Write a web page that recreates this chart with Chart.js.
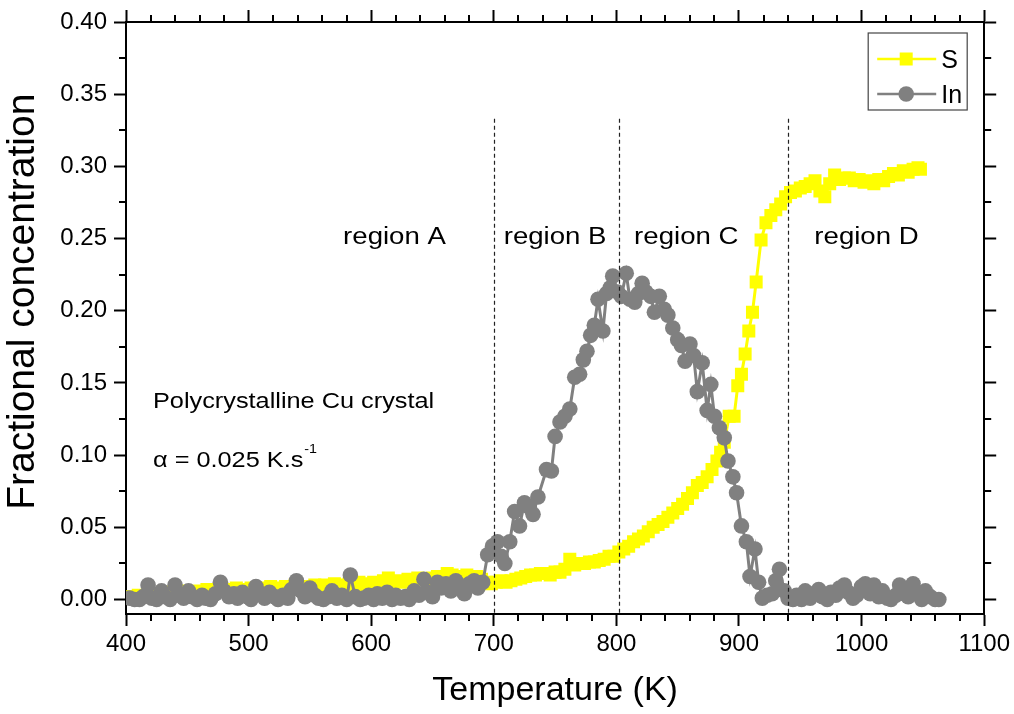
<!DOCTYPE html>
<html>
<head>
<meta charset="utf-8">
<title>S and In segregation on polycrystalline Cu</title>
<script src="https://cdn.jsdelivr.net/npm/chart.js@4.4.1/dist/chart.umd.min.js"></script>
<style>
  html, body { margin: 0; padding: 0; background: #fff; }
  #wrap { width: 1014px; height: 714px; position: relative; }
</style>
</head>
<body>
<div id="wrap"><canvas id="myChart"></canvas></div>
<script>
// Sulphur surface concentration vs temperature
const sTemp = [402, 406, 410, 414, 418, 422, 426, 430, 434, 438, 442, 446, 450, 454, 458, 462, 466, 470, 474, 478,
    482, 486, 490, 494, 498, 502, 506, 510, 514, 518, 522, 526, 530, 534, 538, 542, 546, 550, 554, 558,
    562, 566, 570, 574, 578, 582, 586, 590, 594, 598, 602, 606, 610, 614, 618, 622, 626, 630, 634, 638,
    642, 646, 650, 654, 658, 662, 666, 670, 674, 678, 682, 686, 690, 694, 698, 702, 706, 710, 714, 718,
    722, 726, 730, 734, 738, 742, 746, 750, 754, 758, 762, 766, 770, 774, 778, 782, 786, 790, 794, 798,
    802, 806, 810, 814, 818, 822, 826, 830, 834, 838, 842, 846, 850, 854, 858, 862, 866, 870, 874, 878,
    882, 885, 888, 892, 896, 899, 902, 905, 908, 911, 914, 918, 922, 926, 930, 934, 938, 942, 946, 950,
    954, 958, 962, 966, 970, 974, 978, 982, 986, 990, 994, 998, 1002, 1006, 1010, 1014, 1018, 1022, 1026, 1030,
    1034, 1038, 1042, 1046, 1048];
const sConc = [0.002, 0.002, 0.003, 0.002, 0.004, 0.004, 0.003, 0.005, 0.004, 0.005, 0.004, 0.006, 0.005, 0.005, 0.006, 0.005, 0.007, 0.006, 0.006, 0.008,
    0.007, 0.006, 0.008, 0.007, 0.006, 0.008, 0.007, 0.008, 0.007, 0.009, 0.008, 0.007, 0.009, 0.008, 0.010, 0.009, 0.008, 0.009, 0.010, 0.008,
    0.010, 0.009, 0.011, 0.010, 0.009, 0.011, 0.010, 0.012, 0.010, 0.011, 0.012, 0.011, 0.013, 0.015, 0.012, 0.013, 0.012, 0.014, 0.013, 0.015,
    0.014, 0.013, 0.015, 0.016, 0.014, 0.018, 0.017, 0.015, 0.016, 0.017, 0.015, 0.016, 0.014, 0.012, 0.011, 0.012, 0.013, 0.012, 0.013, 0.014,
    0.015, 0.016, 0.017, 0.017, 0.018, 0.018, 0.017, 0.019, 0.019, 0.021, 0.028, 0.024, 0.025, 0.025, 0.026, 0.026, 0.027, 0.028, 0.030, 0.030,
    0.033, 0.035, 0.037, 0.040, 0.042, 0.044, 0.047, 0.050, 0.052, 0.054, 0.057, 0.060, 0.063, 0.066, 0.070, 0.074, 0.079, 0.081, 0.085, 0.090,
    0.096, 0.102, 0.109, 0.127, 0.127, 0.148, 0.156, 0.170, 0.186, 0.199, 0.220, 0.249, 0.261, 0.266, 0.270, 0.274, 0.279, 0.282, 0.283, 0.285,
    0.286, 0.288, 0.290, 0.283, 0.279, 0.288, 0.294, 0.291, 0.292, 0.292, 0.290, 0.291, 0.289, 0.290, 0.288, 0.291, 0.290, 0.293, 0.295, 0.294,
    0.297, 0.296, 0.298, 0.299, 0.298];

// Indium surface concentration vs temperature
const inTemp = [403, 407, 411, 414, 418, 421, 425, 429, 432, 436, 440, 443, 447, 451, 454, 458, 462, 465, 469, 473,
    477, 480, 484, 488, 491, 495, 499, 502, 506, 510, 513, 517, 521, 524, 528, 532, 535, 539, 543, 546,
    550, 554, 557, 561, 565, 568, 572, 576, 580, 583, 587, 591, 594, 598, 602, 605, 609, 613, 617, 620,
    624, 628, 631, 635, 639, 643, 646, 650, 654, 657, 661, 665, 669, 672, 676, 680, 684, 687, 691, 695,
    699, 703, 706, 709, 713, 717, 721, 725, 729, 732, 736, 743, 747, 750, 754, 758, 762, 766, 770, 773,
    776, 779, 782, 785, 789, 792, 795, 797, 801, 804, 808, 811, 815, 818, 821, 824, 828, 831, 835, 839,
    842, 846, 850, 853, 856, 860, 863, 866, 870, 874, 877, 880, 884, 888, 891, 895, 898, 902, 906, 909,
    913, 916, 919, 923, 927, 930, 933, 937, 940, 944, 947, 951, 954, 958, 961, 965, 968, 972, 975, 979,
    982, 986, 989, 993, 996, 1000, 1003, 1007, 1010, 1014, 1017, 1021, 1024, 1028, 1031, 1035, 1038, 1042, 1045, 1049,
    1052, 1056, 1060, 1063];
const inConc = [0.001, 0.000, 0.000, 0.002, 0.010, 0.001, 0.000, 0.006, 0.002, 0.000, 0.010, 0.003, 0.001, 0.006, 0.002, 0.000, 0.003, 0.001, 0.000, 0.004,
    0.012, 0.006, 0.002, 0.004, 0.001, 0.005, 0.002, 0.000, 0.009, 0.004, 0.001, 0.005, 0.002, 0.000, 0.003, 0.001, 0.007, 0.013, 0.006, 0.002,
    0.008, 0.003, 0.001, 0.000, 0.002, 0.006, 0.001, 0.003, 0.000, 0.017, 0.002, 0.000, 0.001, 0.003, 0.000, 0.004, 0.001, 0.005, 0.000, 0.003,
    0.001, 0.002, 0.000, 0.006, 0.003, 0.014, 0.005, 0.002, 0.012, 0.008, 0.011, 0.006, 0.013, 0.009, 0.004, 0.011, 0.013, 0.008, 0.012, 0.031,
    0.037, 0.040, 0.030, 0.025, 0.040, 0.061, 0.051, 0.067, 0.064, 0.059, 0.071, 0.090, 0.089, 0.113, 0.123, 0.127, 0.132, 0.154, 0.156, 0.166,
    0.172, 0.183, 0.190, 0.208, 0.186, 0.212, 0.216, 0.224, 0.213, 0.210, 0.226, 0.208, 0.206, 0.212, 0.219, 0.213, 0.210, 0.199, 0.210, 0.201,
    0.197, 0.188, 0.180, 0.176, 0.165, 0.177, 0.169, 0.144, 0.164, 0.131, 0.149, 0.127, 0.119, 0.112, 0.096, 0.085, 0.074, 0.051, 0.040, 0.016,
    0.035, 0.012, 0.001, 0.003, 0.004, 0.013, 0.021, 0.006, 0.001, 0.000, 0.003, 0.000, 0.006, 0.001, 0.004, 0.007, 0.002, 0.000, 0.005, 0.003,
    0.008, 0.010, 0.005, 0.001, 0.003, 0.009, 0.011, 0.004, 0.010, 0.002, 0.006, 0.001, 0.000, 0.003, 0.010, 0.004, 0.002, 0.011, 0.005, 0.000,
    0.006, 0.002, 0.000, 0.000];

// Axis ticks
const xTicks = [400, 500, 600, 700, 800, 900, 1000, 1100];
const xMinorTicks = [420, 440, 460, 480, 520, 540, 560, 580, 620, 640, 660, 680, 720, 740, 760, 780,
    820, 840, 860, 880, 920, 940, 960, 980, 1020, 1040, 1060, 1080];
const yTicks = [0, 0.05, 0.10, 0.15, 0.20, 0.25, 0.30, 0.35, 0.40];
const yMinorTicks = [0.025, 0.075, 0.125, 0.175, 0.225, 0.275, 0.325, 0.375];

// Region boundaries (K) and region labels
const boundaryTemps = [700, 802, 940];
const boundaryTop = 0.333;
const regionLabels = ["region A", "region B", "region C", "region D"];
const regionCenters = [619, 750, 857, 1004];
const regionLabelY = 0.246;

// Sample notes
const noteLines = ["Polycrystalline Cu crystal", "\u03B1 = 0.025 K.s"];
const noteSuperscript = "-1";
const noteX = 422;
const noteY = [0.133, 0.092];

const fontFamily = '"Liberation Sans", Arial, Helvetica, sans-serif';
const ctx = document.querySelector("#myChart");

Chart.defaults.font.family = fontFamily;
Chart.defaults.color = "#000";

const toPoints = (xs, ys) => xs.map((t, i) => ({ x: t, y: ys[i] }));

// Draws text squeezed/stretched horizontally
function stretchedText(c, text, x, y, size, sx, align) {
    c.save();
    c.translate(x, y);
    c.scale(sx, 1);
    c.font = `${size}px ${fontFamily}`;
    c.textAlign = align;
    c.fillText(text, 0, 0);
    const w = c.measureText(text).width * sx;
    c.restore();
    return w;
}

// Minor ticks, region boundaries and text notes
const decorations = {
    id: "decorations",
    afterDatasetsDraw(chart) {
        const { ctx: c, chartArea: area, scales: { x, y } } = chart;
        const minorLen = 7;
        c.save();
        c.strokeStyle = "#000";
        c.lineWidth = 2;
        c.beginPath();
        xMinorTicks.forEach(v => {
            const px = Math.round(x.getPixelForValue(v));
            c.moveTo(px, area.bottom);
            c.lineTo(px, area.bottom + minorLen);
            c.moveTo(px, area.top);
            c.lineTo(px, area.top - minorLen);
        });
        yMinorTicks.forEach(v => {
            const py = Math.round(y.getPixelForValue(v));
            c.moveTo(area.left, py);
            c.lineTo(area.left - minorLen, py);
            c.moveTo(area.right, py);
            c.lineTo(area.right + minorLen, py);
        });
        c.stroke();

        // dashed region boundaries
        c.setLineDash([4, 3]);
        c.lineWidth = 1.2;
        c.strokeStyle = "#222";
        boundaryTemps.forEach(t => {
            const px = Math.round(x.getPixelForValue(t)) + 0.5;
            c.beginPath();
            c.moveTo(px, y.getPixelForValue(boundaryTop));
            c.lineTo(px, area.bottom);
            c.stroke();
        });
        c.setLineDash([]);

        c.fillStyle = "#000";
        c.textBaseline = "alphabetic";
        regionLabels.forEach((label, i) => {
            stretchedText(c, label, x.getPixelForValue(regionCenters[i]), y.getPixelForValue(regionLabelY), 23, 1.2, "center");
        });

        const nx = x.getPixelForValue(noteX);
        stretchedText(c, noteLines[0], nx, y.getPixelForValue(noteY[0]), 22, 1.15, "left");
        const baseY = y.getPixelForValue(noteY[1]);
        const w = stretchedText(c, noteLines[1], nx, baseY, 22, 1.15, "left");
        stretchedText(c, noteSuperscript, nx + w + 1, baseY - 14, 13, 1.1, "left");
        c.restore();
    }
};

// Framed legend with line + marker samples
const boxLegend = {
    id: "boxLegend",
    afterDraw(chart) {
        const { ctx: c, chartArea: area } = chart;
        const left = area.right - 116, top = area.top + 11, w = 99, h = 77;
        c.save();
        c.fillStyle = "#fff";
        c.fillRect(left, top, w, h);
        c.strokeStyle = "#444";
        c.lineWidth = 1.2;
        c.strokeRect(left, top, w, h);
        chart.data.datasets.forEach((ds, i) => {
            const cy = top + 26 + i * 35;
            c.strokeStyle = ds.borderColor;
            c.lineWidth = 2.5;
            c.beginPath();
            c.moveTo(left + 9, cy);
            c.lineTo(left + 68, cy);
            c.stroke();
            c.fillStyle = ds.pointBackgroundColor;
            Chart.helpers.drawPoint(c, { pointStyle: ds.pointStyle, radius: ds.pointRadius, rotation: 0, borderWidth: 0 }, left + 38, cy);
            c.fillStyle = "#000";
            c.font = `25px ${fontFamily}`;
            c.textAlign = "left";
            c.textBaseline = "alphabetic";
            c.fillText(ds.label, left + 73, cy + 9);
        });
        c.restore();
    }
};

const frameGrid = { drawOnChartArea: false, tickLength: 12, tickWidth: 2, tickColor: "#000" };
const frameBorder = { display: true, color: "#000", width: 2 };

let tdsChart = new Chart(ctx, {
    type: "line",
    data: {
        datasets: [
            {
                label: "S",
                data: toPoints(sTemp, sConc),
                borderColor: "#ffff00",
                backgroundColor: "#ffff00",
                pointBackgroundColor: "#ffff00",
                pointBorderColor: "#ffff00",
                pointStyle: "rect",
                pointRadius: 9.2,
                pointBorderWidth: 0,
                borderWidth: 3,
                order: 2,
            },
            {
                label: "In",
                data: toPoints(inTemp, inConc),
                borderColor: "#808080",
                backgroundColor: "#808080",
                pointBackgroundColor: "#808080",
                pointBorderColor: "#808080",
                pointStyle: "circle",
                pointRadius: 7.8,
                pointBorderWidth: 0,
                borderWidth: 3,
                order: 1,
            },
        ]
    },
    options: {
        responsive: true,
        maintainAspectRatio: false,
        animation: false,
        events: [],
        layout: { padding: 0 },
        plugins: {
            legend: { display: false },
            tooltip: { enabled: false },
        },
        scales: {
            x: {
                type: "linear",
                position: "bottom",
                min: 400,
                max: 1100,
                afterBuildTicks: s => { s.ticks = xTicks.map(v => ({ value: v })); },
                afterFit: s => { s.height = 100; },
                ticks: { color: "#000", font: { size: 24 }, padding: 4, maxRotation: 0, autoSkip: false, callback: v => String(v) },
                grid: frameGrid,
                border: frameBorder,
                title: {
                    display: true,
                    text: "Temperature (K)",
                    color: "#000",
                    font: { size: 34 },
                    padding: { top: 0, bottom: 3 },
                },
            },
            xTop: {
                type: "linear",
                position: "top",
                min: 400,
                max: 1100,
                afterBuildTicks: s => { s.ticks = xTicks.map(v => ({ value: v })); },
                afterFit: s => { s.height = 22; },
                ticks: { callback: () => "", autoSkip: false },
                grid: frameGrid,
                border: frameBorder,
            },
            y: {
                type: "linear",
                position: "left",
                min: -0.01,
                max: 0.40,
                afterBuildTicks: s => { s.ticks = yTicks.map(v => ({ value: v })); },
                afterFit: s => { s.width = 126; },
                ticks: { color: "#000", font: { size: 24 }, padding: 7, autoSkip: false, callback: v => v.toFixed(2) },
                grid: frameGrid,
                border: frameBorder,
                title: {
                    display: true,
                    text: "   Fractional concentration",
                    color: "#000",
                    font: { size: 39 },
                    padding: 0,
                },
            },
            yRight: {
                type: "linear",
                position: "right",
                min: -0.01,
                max: 0.40,
                afterBuildTicks: s => { s.ticks = yTicks.map(v => ({ value: v })); },
                afterFit: s => { s.width = 29; },
                ticks: { callback: () => "", autoSkip: false },
                grid: frameGrid,
                border: frameBorder,
            },
        },
        elements: { line: { tension: 0 } },
    },
    plugins: [decorations, boxLegend],
});
</script>
</body>
</html>
